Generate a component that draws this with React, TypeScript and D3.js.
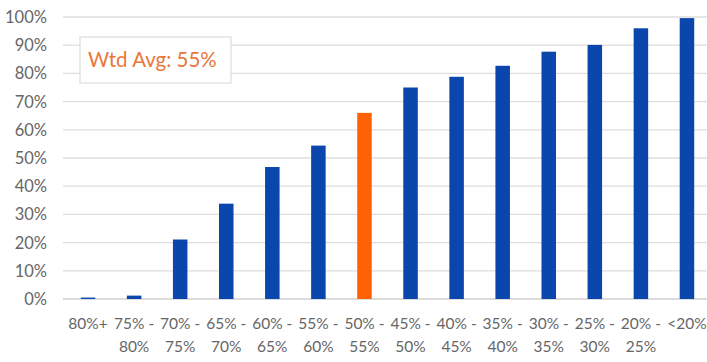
import React from "react";
import * as d3 from "d3";

const categories = [
  ["80%+"],
  ["75% -", "80%"],
  ["70% -", "75%"],
  ["65% -", "70%"],
  ["60% -", "65%"],
  ["55% -", "60%"],
  ["50% -", "55%"],
  ["45% -", "50%"],
  ["40% -", "45%"],
  ["35% -", "40%"],
  ["30% -", "35%"],
  ["25% -", "30%"],
  ["20% -", "25%"],
  ["<20%"],
];
const values = [0.5, 1.2, 21.1, 33.8, 46.8, 54.4, 66.0, 75.0, 78.8, 82.7, 87.7, 90.1, 96.0, 99.6];
const highlightIndex = 6;
const yTicks = [0, 10, 20, 30, 40, 50, 60, 70, 80, 90, 100];
const calloutText = "Wtd Avg: 55%";

const W = 707;
const H = 362;
const FONT = "Lato, 'Open Sans', sans-serif";

export default function App() {
  const keys = categories.map((_, i) => String(i));
  const x = d3.scaleBand<string>().domain(keys).range([65, 710]).padding(0);
  const y = d3.scaleLinear().domain([0, 100]).range([299, 17]);
  const barW = x.bandwidth() * 0.315;
  const cx = (i: number) => (x(String(i)) as number) + x.bandwidth() / 2;

  return (
    <svg
      width={W}
      height={H}
      style={{ position: "absolute", left: 0, top: 0, background: "#fff" }}
      fontFamily={FONT}
    >
      {yTicks.map((t) => (
        <g key={t}>
          <line x1={63} x2={W} y1={y(t)} y2={y(t)} stroke={t === 0 ? "#d0d0d0" : "#dedede"} strokeWidth={1.3} />
          <text x={47} y={y(t) + 6} textAnchor="end" fontSize={16.5} fill="#666">
            {t}%
          </text>
        </g>
      ))}
      {values.map((v, i) => (
        <rect
          key={i}
          x={cx(i) - barW / 2}
          y={y(v)}
          width={barW}
          height={y(0) - y(v)}
          fill={i === highlightIndex ? "#ff6106" : "#0a46ac"}
        />
      ))}
      {categories.map((lines, i) => (
        <text key={i} textAnchor="middle" fontSize={15.5} fill="#666">
          {lines.map((s, j) => (
            <tspan key={j} x={cx(i)} y={329 + j * 23}>
              {s}
            </tspan>
          ))}
        </text>
      ))}
      <rect x={80} y={37} width={151} height={46} fill="#fff" stroke="#d6d6d6" strokeWidth={1} />
      <text x={88} y={66.5} fontSize={20.5} fill="#e8773a">
        {calloutText}
      </text>
    </svg>
  );
}
